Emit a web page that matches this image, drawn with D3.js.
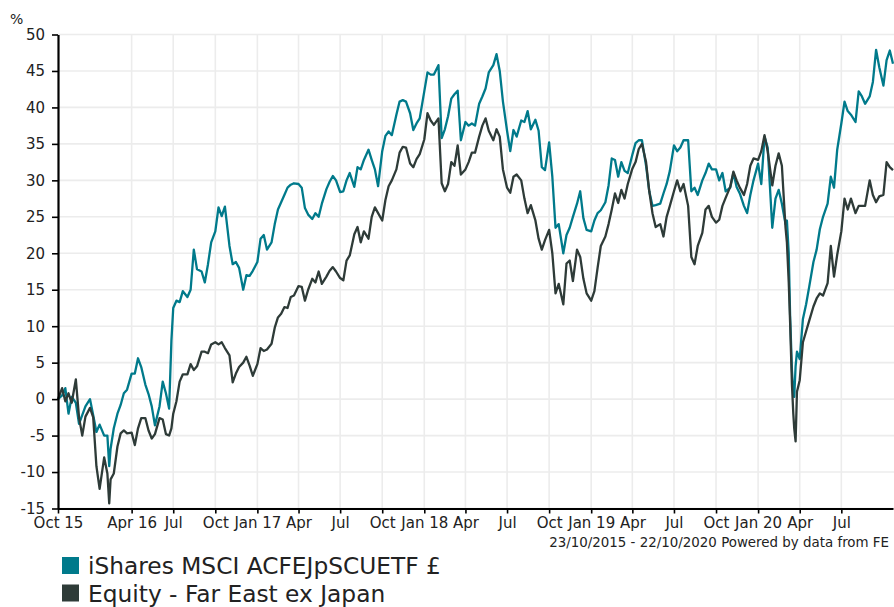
<!DOCTYPE html>
<html><head><meta charset="utf-8">
<script src="https://cdn.jsdelivr.net/npm/d3@7"></script>
<style>
html,body{margin:0;padding:0;background:#fff;}
svg{display:block;font-family:"DejaVu Sans",Verdana,sans-serif;}
</style></head><body>
<svg id="chart" width="894" height="607"></svg>
<script>
// ---------- DATA ----------
const dates = [
 "2015-10-23","2015-11-01","2015-11-08","2015-11-15","2015-11-22","2015-12-01","2015-12-08","2015-12-15","2015-12-22",
 "2016-01-01","2016-01-08","2016-01-15","2016-01-22","2016-02-01","2016-02-08","2016-02-12","2016-02-15","2016-02-22",
 "2016-03-01","2016-03-08","2016-03-15","2016-03-22","2016-04-01","2016-04-08","2016-04-15","2016-04-22",
 "2016-05-01","2016-05-08","2016-05-15","2016-05-22","2016-06-01","2016-06-08","2016-06-15","2016-06-22","2016-06-27",
 "2016-07-01","2016-07-08","2016-07-15","2016-07-22","2016-08-01","2016-08-08","2016-08-15","2016-08-22",
 "2016-09-01","2016-09-08","2016-09-15","2016-09-22","2016-10-01","2016-10-08","2016-10-15","2016-10-22",
 "2016-11-01","2016-11-08","2016-11-15","2016-11-22","2016-12-01","2016-12-08","2016-12-15","2016-12-22",
 "2017-01-01","2017-01-08","2017-01-15","2017-01-22","2017-02-01","2017-02-08","2017-02-15","2017-02-22",
 "2017-03-01","2017-03-08","2017-03-15","2017-03-22","2017-04-01","2017-04-08","2017-04-15","2017-04-22",
 "2017-05-01","2017-05-08","2017-05-15","2017-05-22","2017-06-01","2017-06-08","2017-06-15","2017-06-22",
 "2017-07-01","2017-07-08","2017-07-15","2017-07-22","2017-08-01","2017-08-08","2017-08-15","2017-08-22",
 "2017-09-01","2017-09-08","2017-09-15","2017-09-22","2017-10-01","2017-10-08","2017-10-15","2017-10-22",
 "2017-11-01","2017-11-08","2017-11-15","2017-11-22","2017-12-01","2017-12-08","2017-12-15","2017-12-22",
 "2018-01-01","2018-01-08","2018-01-15","2018-01-22","2018-02-01","2018-02-08","2018-02-15","2018-02-22",
 "2018-03-01","2018-03-08","2018-03-15","2018-03-22","2018-04-01","2018-04-08","2018-04-15","2018-04-22",
 "2018-05-01","2018-05-08","2018-05-15","2018-05-22","2018-06-01","2018-06-08","2018-06-15","2018-06-22",
 "2018-07-01","2018-07-08","2018-07-15","2018-07-22","2018-08-01","2018-08-08","2018-08-15","2018-08-22",
 "2018-09-01","2018-09-08","2018-09-15","2018-09-22","2018-10-01","2018-10-08","2018-10-15","2018-10-22",
 "2018-11-01","2018-11-08","2018-11-15","2018-11-22","2018-12-01","2018-12-08","2018-12-15","2018-12-22",
 "2019-01-01","2019-01-08","2019-01-15","2019-01-22","2019-02-01","2019-02-08","2019-02-15","2019-02-22",
 "2019-03-01","2019-03-08","2019-03-15","2019-03-22","2019-04-01","2019-04-08","2019-04-15","2019-04-22",
 "2019-05-01","2019-05-08","2019-05-15","2019-05-22","2019-06-01","2019-06-08","2019-06-15","2019-06-22",
 "2019-07-01","2019-07-08","2019-07-15","2019-07-22","2019-08-01","2019-08-08","2019-08-15","2019-08-22",
 "2019-09-01","2019-09-08","2019-09-15","2019-09-22","2019-10-01","2019-10-08","2019-10-15","2019-10-22",
 "2019-11-01","2019-11-08","2019-11-15","2019-11-22","2019-12-01","2019-12-08","2019-12-15","2019-12-22",
 "2020-01-01","2020-01-08","2020-01-15","2020-01-22","2020-02-01","2020-02-08","2020-02-15","2020-02-22",
 "2020-03-01","2020-03-04","2020-03-08","2020-03-11","2020-03-15","2020-03-18","2020-03-20","2020-03-23","2020-03-26",
 "2020-04-01","2020-04-08","2020-04-15","2020-04-22","2020-05-01","2020-05-08","2020-05-15","2020-05-22",
 "2020-06-01","2020-06-08","2020-06-15","2020-06-22","2020-07-01","2020-07-08","2020-07-15","2020-07-22",
 "2020-08-01","2020-08-08","2020-08-15","2020-08-22","2020-09-01","2020-09-08","2020-09-15","2020-09-22",
 "2020-10-01","2020-10-08","2020-10-15","2020-10-22"
];

// iShares MSCI ACFEJpSCUETF £ (cumulative % return)
const etfValues = [
 0, 0.5, 1.5, -2.0, 0.3, -0.5, -3.4, -2.2, -1.0,
 0.0, -2.2, -4.5, -3.5, -5.0, -5.0, -9.2, -6.8, -4.0,
 -2.0, -0.8, 0.8, 1.3, 3.5, 3.5, 5.6, 4.4,
 2.0, 0.7, -1.0, -3.6, -1.0, 2.4, 0.8, -1.3, 8.0,
 12.5, 13.5, 13.3, 14.8, 14.0, 15.0, 20.5, 17.8,
 17.5, 16.0, 18.5, 21.5, 23.0, 26.3, 25.1, 26.4,
 21.0, 18.5, 18.8, 18.0, 15.0, 17.0, 16.9, 17.6,
 18.8, 22.0, 22.5, 20.5, 21.5, 24.0, 26.0, 27.0,
 28.0, 29.0, 29.4, 29.6, 29.5, 29.0, 26.2, 25.3,
 24.7, 25.5, 25.0, 26.8, 28.8, 29.8, 30.6, 30.0,
 28.4, 28.5, 30.0, 31.0, 29.1, 31.8, 31.5, 32.8,
 34.2, 32.8, 31.5, 29.2, 34.0, 36.1, 36.7, 36.2,
 39.0, 40.8, 41.0, 40.8, 39.2, 36.9, 37.8, 38.5,
 42.2, 44.8, 44.5, 44.5, 45.8, 35.8, 37.0, 38.8,
 41.2, 41.8, 42.3, 35.5, 38.0, 37.5, 37.8, 37.5,
 40.5, 41.5, 42.6, 44.8, 45.8, 47.3, 45.0, 40.8,
 36.8, 34.0, 36.9, 36.0, 38.2, 38.0, 39.5, 37.0,
 38.3, 36.8, 31.8, 31.4, 35.2, 30.5, 23.5, 24.0,
 20.0, 22.5, 23.5, 25.0, 26.8, 28.5, 24.8, 23.2,
 23.0, 24.5, 25.5, 25.9, 27.0, 29.3, 33.0, 32.8,
 30.5, 32.5, 31.3, 31.0, 33.5, 35.1, 35.5, 35.5,
 32.0, 28.5, 26.5, 26.6, 26.8, 28.2, 29.5, 31.3,
 34.8, 34.0, 34.5, 35.5, 35.5, 28.5, 29.0, 28.0,
 30.0, 31.0, 32.3, 31.5, 31.5, 30.0, 31.0, 28.5,
 29.0, 31.0, 29.1, 28.2, 26.5, 25.5, 28.0, 30.0,
 32.3, 29.5, 36.0, 34.5, 23.5, 27.5, 28.7, 26.8,
 24.0, 24.5, 20.0, 11.5, 4.0, 0.8, 0.3, 4.5, 6.5,
 5.5, 11.0, 13.0, 15.5, 18.8, 20.5, 23.3, 25.0,
 26.8, 30.5, 29.0, 34.2, 37.8, 40.8, 39.5, 39.0,
 38.0, 42.2, 41.5, 40.5, 41.5, 43.5, 47.9, 45.5,
 43.0, 46.5, 47.8, 46.0
];

// Equity - Far East ex Japan (sector average, cumulative % return)
const sectorValues = [
 0, 1.5, -0.3, 0.8, -0.5, 2.7, -2.5, -5.0, -2.4,
 -1.2, -2.5, -9.2, -12.3, -8.0, -10.2, -14.3, -11.0, -10.2,
 -6.5, -4.7, -4.3, -4.7, -4.6, -6.3, -4.0, -2.6,
 -2.6, -4.3, -5.4, -4.8, -2.6, -2.8, -4.8, -5.0, -4.0,
 -2.0, -0.3, 2.4, 3.4, 3.4, 4.8, 4.0, 4.5,
 6.5, 6.5, 6.3, 7.5, 7.8, 7.5, 7.8, 7.0,
 6.0, 2.3, 3.5, 4.4, 5.0, 5.8, 4.6, 3.2,
 4.8, 7.0, 6.6, 6.8, 7.6, 9.8, 11.2, 11.7,
 12.6, 12.5, 14.0, 14.2, 15.5, 15.4, 13.5, 15.0,
 16.5, 16.0, 17.5, 15.8, 16.8, 17.6, 18.1, 17.5,
 16.6, 16.3, 19.0, 19.7, 22.6, 23.6, 21.5, 23.0,
 22.0, 25.0, 26.3, 25.5, 24.5, 27.3, 29.2, 30.0,
 31.5, 33.8, 34.6, 34.5, 32.3, 31.8, 32.9, 33.6,
 35.6, 39.2, 38.2, 37.6, 38.5, 29.6, 28.5, 29.5,
 32.5, 32.0, 34.8, 30.8, 31.5, 32.5, 33.8, 33.8,
 36.0, 37.5, 38.5, 36.8, 35.5, 37.0, 36.0, 31.5,
 29.0, 28.3, 30.5, 30.8, 30.0, 27.5, 25.5, 26.6,
 24.5, 22.0, 20.5, 21.8, 23.2, 20.0, 14.5, 15.8,
 13.0, 18.6, 19.0, 16.2, 20.5, 19.5, 16.5, 14.5,
 13.5, 14.8, 18.0, 21.0, 22.3, 24.0, 26.0, 28.2,
 26.9, 28.7, 27.5, 29.5, 31.6, 32.5, 34.3, 35.0,
 32.5, 28.5, 25.5, 23.6, 24.0, 22.3, 25.0, 26.5,
 28.5, 30.0, 28.5, 29.5, 26.5, 19.5, 18.5, 21.0,
 22.8, 26.0, 26.5, 25.0, 24.2, 24.6, 26.5, 27.6,
 29.1, 31.2, 30.0, 29.0, 28.0, 29.5, 32.0, 33.0,
 32.8, 34.0, 36.2, 34.0, 29.3, 32.0, 33.7, 32.0,
 23.5, 21.5, 16.0, 10.5, 2.0, -2.0, -4.0, -5.8, 1.0,
 2.6, 7.8, 9.3, 10.8, 12.7, 13.8, 14.5, 14.2,
 15.9, 21.0, 16.8, 19.8, 23.0, 27.5, 26.0, 27.5,
 25.5, 26.5, 26.5, 26.5, 30.0, 28.0, 27.0, 27.8,
 28.0, 32.5, 31.8, 31.4
];

const seriesNames = ["iShares MSCI ACFEJpSCUETF £", "Equity - Far East ex Japan"];
const seriesColors = ["#007a8b", "#2e3b38"];
const yTicks = [-15, -10, -5, 0, 5, 10, 15, 20, 25, 30, 35, 40, 45, 50];
const xTickDates = ["2015-10-23","2016-04-01","2016-07-01","2016-10-01","2017-01-01","2017-04-01","2017-07-01","2017-10-01",
  "2018-01-01","2018-04-01","2018-07-01","2018-10-01","2019-01-01","2019-04-01","2019-07-01","2019-10-01",
  "2020-01-01","2020-04-01","2020-07-01"];
const xTickLabels = ["Oct 15","Apr 16","Jul","Oct","Jan 17","Apr","Jul","Oct","Jan 18","Apr","Jul","Oct",
  "Jan 19","Apr","Jul","Oct","Jan 20","Apr","Jul"];
const dateRange = ["2015-10-23", "2020-10-22"];
const footnote = "23/10/2015 - 22/10/2020 Powered by data from FE";
const yUnit = "%";

// ---------- CHART ----------
const parse = d3.utcParse("%Y-%m-%d");
const svg = d3.select("#chart");
const plot = {left: 58, right: 893, top: 34.5, bottom: 508.5};

const x = d3.scaleUtc().domain(dateRange.map(parse)).range([plot.left, plot.right]);
const y = d3.scaleLinear().domain([-15, 50]).range([plot.bottom, plot.top]);

const gridColor = "#ececec";
const grid = svg.append("g");
grid.selectAll("line.h").data(yTicks).join("line")
  .attr("x1", plot.left).attr("x2", 894)
  .attr("y1", d => y(d)).attr("y2", d => y(d))
  .attr("stroke", gridColor).attr("stroke-width", 1.6);
grid.selectAll("line.v").data(xTickDates.slice(1)).join("line")
  .attr("x1", d => x(parse(d))).attr("x2", d => x(parse(d)))
  .attr("y1", plot.top).attr("y2", plot.bottom)
  .attr("stroke", gridColor).attr("stroke-width", 1.6);

const series = [etfValues, sectorValues].map((vals, i) => ({
  name: seriesNames[i], color: seriesColors[i],
  points: dates.map((d, j) => ({date: parse(d), v: vals[j]}))
}));

const line = d3.line().x(d => x(d.date)).y(d => y(d.v));
svg.append("g").selectAll("path").data(series).join("path")
  .attr("d", d => line(d.points))
  .attr("fill", "none")
  .attr("stroke", d => d.color)
  .attr("stroke-width", 2.3)
  .attr("stroke-linejoin", "round");

// axes
const yAxis = d3.axisLeft(y).tickValues(yTicks).tickFormat(d => String(d))
  .tickSize(6).tickSizeOuter(0).tickPadding(7);
const gy = svg.append("g").attr("transform", `translate(${plot.left},0)`).call(yAxis);

const xAxis = d3.axisBottom(x).tickValues(xTickDates.map(parse))
  .tickFormat((d, i) => xTickLabels[i]).tickSize(5).tickSizeOuter(0).tickPadding(4);
const gx = svg.append("g").attr("transform", `translate(0,${plot.bottom})`).call(xAxis);

[gx, gy].forEach(g => {
  g.select(".domain").attr("stroke", "#000").attr("stroke-width", 2.2);
  g.selectAll(".tick line").attr("stroke", "#000").attr("stroke-width", 1.6);
  g.selectAll(".tick text").attr("fill", "#222").style("font-size", "15px")
    .style("font-family", '"DejaVu Sans",Verdana,sans-serif');
});

svg.append("text").attr("x", 10).attr("y", 24).attr("fill", "#222")
  .style("font-size", "14px").text(yUnit);

svg.append("text").attr("x", 889).attr("y", 547).attr("text-anchor", "end")
  .attr("fill", "#222").style("font-size", "13.4px").text(footnote);

// legend
const legend = svg.append("g");
series.forEach((s, i) => {
  const by = 574 + i * 27.5;
  legend.append("rect").attr("x", 62).attr("y", by - 17).attr("width", 17).attr("height", 17)
    .attr("fill", s.color);
  legend.append("text").attr("x", 88).attr("y", by).attr("fill", "#222")
    .style("font-size", "23.3px").text(s.name);
});
</script>
</body></html>
